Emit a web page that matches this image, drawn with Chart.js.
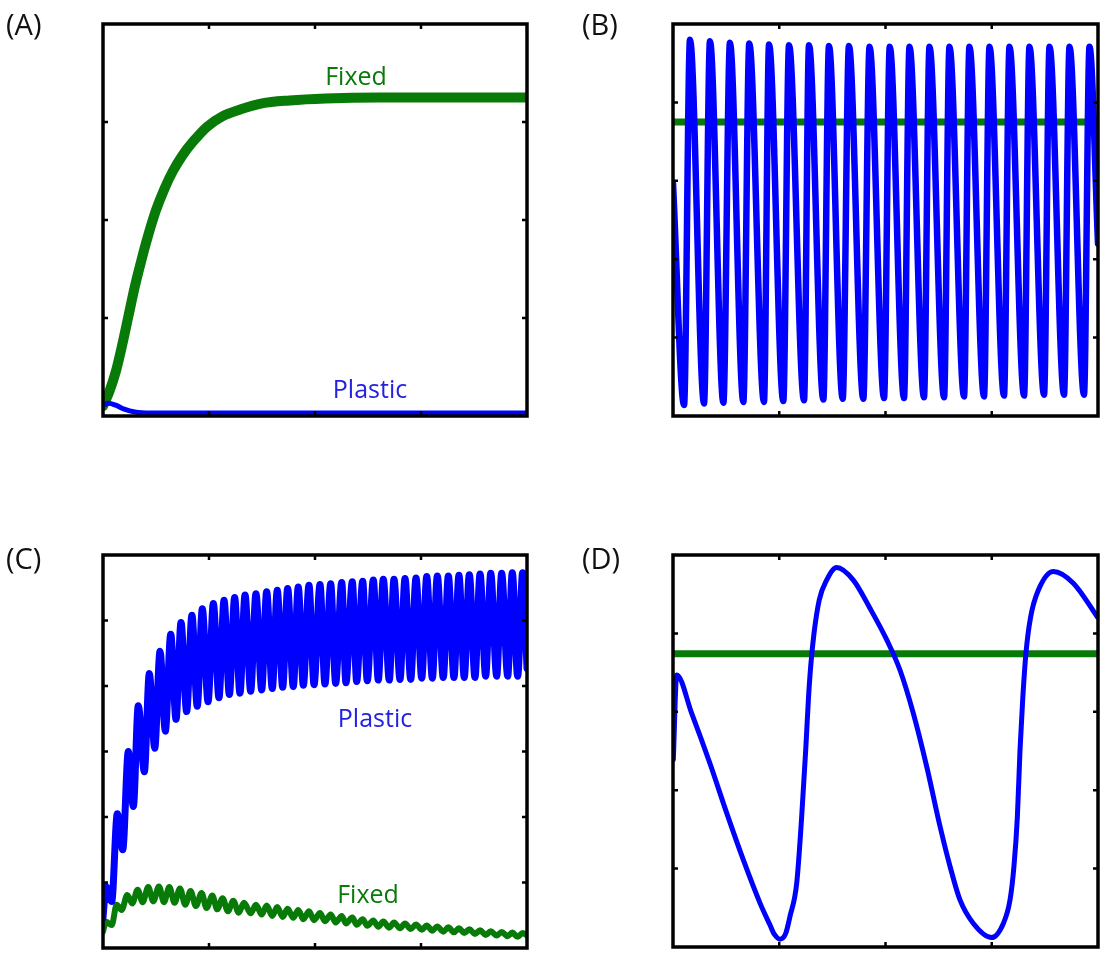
<!DOCTYPE html>
<html>
<head>
<meta charset="utf-8">
<script src="https://cdn.jsdelivr.net/npm/chart.js@4/dist/chart.umd.min.js"></script>
<style>
  html, body { margin: 0; padding: 0; background: #fff; }
  body { width: 1118px; height: 966px; position: relative; overflow: hidden; }
  canvas { position: absolute; }
</style>
</head>
<body>
<canvas id="panelA" width="559" height="483" style="left:0;top:0"></canvas>
<canvas id="panelB" width="559" height="483" style="left:559px;top:0"></canvas>
<canvas id="panelC" width="559" height="483" style="left:0;top:483px"></canvas>
<canvas id="panelD" width="559" height="483" style="left:559px;top:483px"></canvas>
<script>
// ---- data (arbitrary units; x runs 0..400 in every panel)
const xTicks = [100, 200, 300];

// (A)
const aFixedX = [0, 6, 12, 18, 24, 30, 36, 42, 50, 58, 66, 75, 85, 98, 113, 130, 150, 176, 210, 260, 400];
const aFixedY = [0.10, 0.25, 0.45, 0.72, 1.02, 1.32, 1.58, 1.82, 2.10, 2.32, 2.50, 2.66, 2.80, 2.95, 3.06, 3.13, 3.19, 3.22, 3.24, 3.25, 3.25];
const aPlasticX = [0, 5, 12, 20, 30, 45, 400];
const aPlasticY = [0.11, 0.13, 0.11, 0.07, 0.04, 0.03, 0.03];
const aYTicks = [1, 2, 3];

// (B)
const bPlasticX = [0, 10.4, 16, 29.2, 34.8, 47.4, 53.6, 66.2, 71.8, 85.6, 90.4, 103.8, 109.2, 123.3, 128,
  141.5, 146.8, 159.7, 165.6, 179.1, 185, 198.6, 204, 217.4, 222.6, 236.2, 241.4, 255.1, 260.2, 273.9, 279,
  292.7, 297.9, 311.5, 316.7, 330.4, 335.5, 349.2, 354.4, 368, 373.2, 386.8, 392, 400];
const bPlasticY = [2.97, 0.14, 4.80, 0.16, 4.78, 0.17, 4.76, 0.18, 4.75, 0.18, 4.74, 0.19, 4.73, 0.20, 4.73,
  0.21, 4.72, 0.22, 4.72, 0.22, 4.71, 0.23, 4.71, 0.23, 4.71, 0.24, 4.71, 0.24, 4.71, 0.25, 4.71,
  0.25, 4.71, 0.26, 4.71, 0.26, 4.71, 0.27, 4.71, 0.27, 4.71, 0.27, 4.71, 2.2];
const bFixedX = [0, 400];
const bFixedY = [3.75, 3.75];
const bYTicks = [1, 2, 3, 4];

// (C)
const cPlasticX = [0, 2.8, 8.2, 13.5, 18.6, 23.9, 28.6, 33.3, 39.0, 43.7, 48.8, 53.8, 58.8, 63.9, 68.9, 73.6,
  78.9, 83.9, 88.9, 93.7, 99.1, 104.1, 109.4, 114.2, 119.2, 124.2, 129.2, 134.0, 139.3, 144.3, 149.7, 154.4,
  159.7, 164.4, 169.5, 174.2, 179.5, 184.2, 189.0, 194.3, 199.1, 204.7, 209.4, 214.8, 219.5, 225.2, 229.2,
  235.2, 239.3, 245.0, 249.3, 255.0, 259.7, 264.4, 270.1, 274.5, 280.2, 284.9, 290.3, 295.3, 300.7, 305.4,
  310.7, 315.4, 321.0, 325.8, 331.1, 335.8, 340.8, 345.6, 350.9, 355.7, 361.0, 365.8, 371.4, 376.1, 381.8,
  386.1, 391.2, 395.9, 400];
const cPlasticY = [0.46, 0.94, 0.71, 2.05, 1.50, 3.00, 2.16, 3.70, 2.69, 4.19, 3.05, 4.53, 3.31, 4.79, 3.49, 4.97,
  3.61, 5.08, 3.69, 5.18, 3.76, 5.26, 3.82, 5.31, 3.87, 5.35, 3.89, 5.39, 3.92, 5.41, 3.94, 5.44,
  3.96, 5.46, 3.98, 5.49, 3.99, 5.51, 4.01, 5.54, 4.02, 5.55, 4.03, 5.56, 4.04, 5.58, 4.05,
  5.59, 4.07, 5.60, 4.08, 5.62, 4.09, 5.63, 4.09, 5.63, 4.10, 5.64, 4.10, 5.65, 4.12, 5.67,
  4.12, 5.68, 4.13, 5.68, 4.13, 5.69, 4.13, 5.70, 4.13, 5.71, 4.15, 5.72, 4.15, 5.72, 4.15,
  5.73, 4.15, 5.73, 4.27];
const cFixedX = [0, 2.8, 8.2, 12.9, 17.6, 22.9, 27.6, 32.7, 37.4, 42.7, 47.4, 52.8, 57.5, 62.6, 67.5, 72.6,
  77.6, 82.6, 87.7, 93.0, 97.7, 103.1, 107.8, 112.8, 117.8, 122.9, 128.0, 133.0, 139.3, 144.3, 149.7, 154.4,
  159.7, 164.4, 169.5, 174.2, 179.5, 184.2, 189.0, 194.3, 199.1, 204.7, 209.4, 214.8, 219.5, 225.2, 229.2,
  235.2, 239.3, 245.0, 249.3, 255.0, 259.7, 264.4, 270.1, 274.5, 280.2, 284.9, 290.3, 295.3, 300.7, 305.4,
  310.7, 315.4, 321.0, 325.8, 331.1, 335.8, 340.8, 345.6, 350.9, 355.7, 361.0, 365.8, 371.4, 376.1, 381.8,
  386.1, 391.2, 395.9, 400];
const cFixedY = [0.25, 0.40, 0.35, 0.66, 0.58, 0.81, 0.68, 0.89, 0.70, 0.93, 0.71, 0.94, 0.70, 0.93, 0.69, 0.91,
  0.66, 0.87, 0.64, 0.84, 0.61, 0.80, 0.59, 0.76, 0.56, 0.72, 0.54, 0.69, 0.53, 0.66, 0.51, 0.65,
  0.49, 0.625, 0.475, 0.60, 0.46, 0.58, 0.44, 0.56, 0.425, 0.535, 0.41, 0.51, 0.39, 0.49, 0.375,
  0.465, 0.355, 0.44, 0.34, 0.42, 0.325, 0.405, 0.31, 0.39, 0.30, 0.375, 0.29, 0.36, 0.28, 0.345,
  0.265, 0.33, 0.25, 0.315, 0.24, 0.30, 0.23, 0.285, 0.215, 0.27, 0.20, 0.255, 0.19, 0.245, 0.18,
  0.235, 0.17, 0.23, 0.19];
const cYTicks = [1, 2, 3, 4, 5];

// (D)
const dPlasticX = [0.3, 3.5, 17.6, 34.8, 50.5, 66.2, 81.9, 91.3, 95.5, 100.7, 106.0, 110.1, 116.4, 121.1, 124.9, 127.4,
  129.6, 132.7, 137.7, 144.6, 154.0, 169.7, 185.4, 201.1, 213.7, 226.2, 238.8, 251.3, 260.7, 270.1, 282.7, 299.9,
  310.9, 317.2, 320.9, 324.1, 326.6, 329.1, 332.2, 336.6, 343.8, 358.0, 376.8, 399.4];
const dPlasticY = [2.39, 3.47, 2.98, 2.34, 1.71, 1.11, 0.56, 0.28, 0.16, 0.10, 0.17, 0.39, 0.81, 1.66, 2.51, 3.15,
  3.58, 4.00, 4.43, 4.68, 4.84, 4.68, 4.32, 3.92, 3.53, 2.98, 2.30, 1.54, 1.03, 0.60, 0.30, 0.12,
  0.30, 0.60, 1.03, 1.66, 2.51, 3.15, 3.75, 4.21, 4.55, 4.79, 4.64, 4.21];
const dFixedX = [0, 400];
const dFixedY = [3.74, 3.74];
const dYTicks = [1, 2, 3, 4];

// ---- styles
const BLUE = '#0000ff';
const GREEN = '#087a08';
const FONT = '"Open Sans", "Noto Sans", sans-serif';

const zip = (xs, ys) => xs.slice(0, Math.min(xs.length, ys.length)).map((x, i) => ({ x: x, y: ys[i] }));

// frame, inward ticks and text, drawn on top of the lines
const framePlugin = {
  id: 'frame',
  afterDatasetsDraw(chart, args, opts) {
    const ctx = chart.ctx;
    const a = chart.chartArea;
    const sx = chart.scales.x, sy = chart.scales.y;
    ctx.save();
    ctx.strokeStyle = '#000';
    ctx.lineWidth = 2.5;
    ctx.beginPath();
    opts.xTicks.forEach(v => {
      const p = sx.getPixelForValue(v);
      ctx.moveTo(p, a.bottom); ctx.lineTo(p, a.bottom - 5);
      ctx.moveTo(p, a.top); ctx.lineTo(p, a.top + 5);
    });
    opts.yTicks.forEach(v => {
      const p = sy.getPixelForValue(v);
      ctx.moveTo(a.left, p); ctx.lineTo(a.left + 5, p);
      ctx.moveTo(a.right, p); ctx.lineTo(a.right - 5, p);
    });
    ctx.stroke();
    ctx.lineWidth = 3.5;
    ctx.strokeRect(a.left, a.top, a.right - a.left, a.bottom - a.top);

    ctx.textBaseline = 'alphabetic';
    (opts.texts || []).forEach(t => {
      ctx.font = (t.size || 25) + 'px ' + FONT;
      ctx.fillStyle = t.color;
      ctx.textAlign = t.align || 'left';
      ctx.fillText(t.text, t.x, t.y);
    });
    ctx.restore();
  }
};

function makePanel(id, series, yMax, yTicks, padding, texts) {
  const datasets = series.map(s => ({
    data: zip(s.x, s.y),
    borderColor: s.color,
    borderWidth: s.width,
    pointRadius: 0,
    fill: false,
    cubicInterpolationMode: 'monotone',
    borderJoinStyle: 'round',
    borderCapStyle: 'round'
  }));
  return new Chart(document.getElementById(id), {
    type: 'line',
    data: { datasets: datasets },
    options: {
      responsive: false,
      animation: false,
      layout: { padding: padding },
      scales: {
        x: { type: 'linear', min: 0, max: 400, display: false },
        y: { type: 'linear', min: 0, max: yMax, display: false }
      },
      plugins: {
        legend: { display: false },
        tooltip: { enabled: false },
        frame: { xTicks: xTicks, yTicks: yTicks, texts: texts }
      }
    },
    plugins: [framePlugin]
  });
}

makePanel('panelA', [
  { x: aPlasticX, y: aPlasticY, color: BLUE, width: 5 },
  { x: aFixedX, y: aFixedY, color: GREEN, width: 10 }
], 4, aYTicks, { left: 103, top: 24, right: 32, bottom: 67 }, [
  { text: '(A)', x: 6, y: 35, color: '#111', size: 29 },
  { text: 'Fixed', x: 356, y: 85, color: GREEN, align: 'center' },
  { text: 'Plastic', x: 370, y: 398, color: '#2222e0', align: 'center' }
]);

makePanel('panelB', [
  { x: bPlasticX, y: bPlasticY, color: BLUE, width: 6.5 },
  { x: bFixedX, y: bFixedY, color: GREEN, width: 7 }
], 5, bYTicks, { left: 114, top: 24, right: 20, bottom: 67 }, [
  { text: '(B)', x: 23, y: 35, color: '#111', size: 29 }
]);

makePanel('panelC', [
  { x: cPlasticX, y: cPlasticY, color: BLUE, width: 7 },
  { x: cFixedX, y: cFixedY, color: GREEN, width: 6 }
], 6, cYTicks, { left: 103, top: 72, right: 32, bottom: 18 }, [
  { text: '(C)', x: 6, y: 86, color: '#111', size: 29 },
  { text: 'Plastic', x: 375, y: 244, color: '#2222e0', align: 'center' },
  { text: 'Fixed', x: 368, y: 420, color: GREEN, align: 'center' }
]);

makePanel('panelD', [
  { x: dPlasticX, y: dPlasticY, color: BLUE, width: 5 },
  { x: dFixedX, y: dFixedY, color: GREEN, width: 7 }
], 5, dYTicks, { left: 114, top: 72, right: 20, bottom: 19 }, [
  { text: '(D)', x: 23, y: 86, color: '#111', size: 29 }
]);
</script>
</body>
</html>
